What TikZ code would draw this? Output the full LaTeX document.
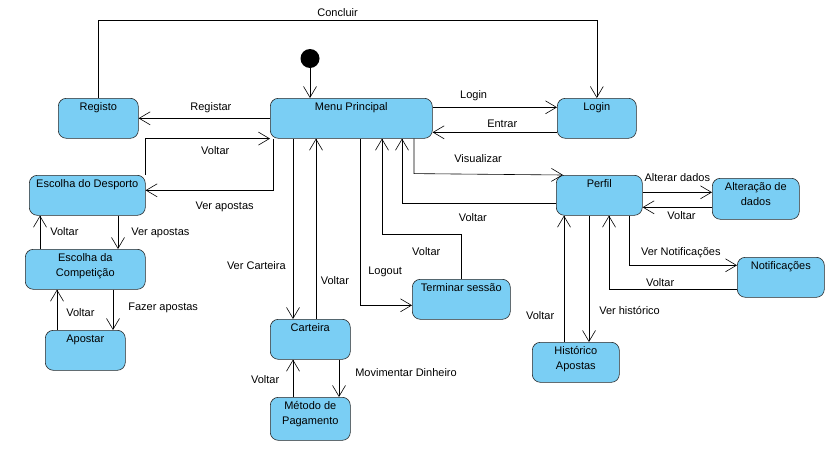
\documentclass[tikz,border=0pt]{standalone}
\usepackage{fontspec}
\setmainfont{Liberation Sans}
\usetikzlibrary{arrows.meta}
\definecolor{statefill}{RGB}{122,206,244}
\definecolor{statedraw}{RGB}{40,40,40}
\newcommand{\statebox}[3]{\parbox[c][#2][t]{#1}{\centering\rule{0pt}{12.5pt}#3}}

\begin{document}
\begin{tikzpicture}[
      x=1pt, y=-1pt,
      every node/.style={font=\fontsize{11}{15}\selectfont},
      state/.style={draw=statedraw, fill=statefill, rounded corners=8pt, inner sep=0pt, anchor=north west, line width=0.6pt},
      start/.style={circle, fill=black, minimum size=19pt, inner sep=0pt},
      tr/.style={draw=black, line width=0.6pt, -{Straight Barb[length=11pt,width=13pt]}},
      lbl/.style={inner sep=1pt, text height=8pt, text depth=2pt}
    ]
    \useasboundingbox (0,0) rectangle (837,461);

    % States, placed by their top left corner
    \node[start] (init) at (310,58.5) {};
    \node[state] (reg) at (58,98) {\statebox{80pt}{40pt}{Registo}};
    \node[state] (menu) at (270,98) {\statebox{162pt}{40pt}{Menu Principal}};
    \node[state] (login) at (557,98) {\statebox{79pt}{40pt}{Login}};
    \node[state] (desp) at (29,175) {\statebox{116pt}{40pt}{Escolha do Desporto}};
    \node[state] (comp) at (25,249) {\statebox{120pt}{40pt}{Escolha da\\Competição}};
    \node[state] (apostar) at (45,330) {\statebox{80pt}{40pt}{Apostar}};
    \node[state] (cart) at (270,319) {\statebox{80pt}{40pt}{Carteira}};
    \node[state] (met) at (270,397) {\statebox{80pt}{43pt}{Método de\\Pagamento}};
    \node[state] (term) at (412,279) {\statebox{98pt}{40pt}{Terminar sessão}};
    \node[state] (perfil) at (556,175) {\statebox{86pt}{40pt}{Perfil}};
    \node[state] (alter) at (712,178) {\statebox{87pt}{41pt}{Alteração de\\dados}};
    \node[state] (notif) at (737,257) {\statebox{87pt}{40pt}{Notificações}};
    \node[state] (hist) at (532,342) {\statebox{87pt}{40pt}{Histórico\\Apostas}};

    % Start and the top loop
    \draw[tr] (init) -- (init |- menu.north);
    \draw[tr] (reg.north) -- ++(0,-78) -| node[lbl, above=0pt, pos=0.24] {Concluir} (login.north);

    % Menu Principal with Registo and Login
    \draw[tr] (menu.west) -- node[lbl, above=5pt, pos=0.45] {Registar} (reg.east);
    \draw[tr] ([yshift=11pt]menu.east) -- node[lbl, above=6pt, pos=0.33] {Login} ([yshift=11pt]login.west);
    \draw[tr] ([yshift=-14pt]login.west) -- node[lbl, above=2pt, pos=0.44] {Entrar} ([yshift=-14pt]menu.east);

    % Apostas: Desporto, Competicao, Apostar
    \draw[tr] (desp.north east) |- node[lbl, below=7pt, pos=0.78] {Voltar} (menu.south west);
    \draw[tr] ([xshift=3pt]menu.south west) |- node[lbl, below=10pt, pos=0.69] {Ver apostas} ([yshift=5pt]desp.east);
    \draw[tr] ([xshift=15pt]comp.north west) -- node[lbl, right=9pt] {Voltar} ([xshift=11pt]desp.south west);
    \draw[tr] ([xshift=89pt]desp.south west) -- node[lbl, right=12pt] {Ver apostas} ([xshift=93pt]comp.north west);
    \draw[tr] ([xshift=12pt]apostar.north west) -- node[lbl, right=8pt, pos=0.41] {Voltar} ([xshift=32pt]comp.south west);
    \draw[tr] ([xshift=88pt]comp.south west) -- node[lbl, right=14pt, pos=0.44] {Fazer apostas} ([xshift=68pt]apostar.north west);

    % Carteira and Metodo de Pagamento
    \draw[tr] ([xshift=23pt]menu.south west) -- node[lbl, left=6pt, pos=0.71] {Ver Carteira} ([xshift=23pt]cart.north west);
    \draw[tr] ([xshift=46pt]cart.north west) -- node[lbl, right=3.5pt, pos=0.21] {Voltar} ([xshift=46pt]menu.south west);
    \draw[tr] ([xshift=69pt]cart.south west) -- node[lbl, right=15pt, pos=0.37] {Movimentar Dinheiro} ([xshift=69pt]met.north west);
    \draw[tr] ([xshift=23pt]met.north west) -- node[lbl, left=12.5pt, pos=0.45] {Voltar} ([xshift=23pt]cart.south west);

    % Terminar sessao
    \draw[tr] ([xshift=90pt]menu.south west) |- node[lbl, right=7pt, pos=0.4] {Logout} ([yshift=-6pt]term.west);
    \draw[tr] ([xshift=49pt]term.north west) -- ++(0,-45) -| node[lbl, below=12pt, pos=0.22] {Voltar} ([xshift=112pt]menu.south west);

    % Perfil and its states
    \draw[tr] ([yshift=-8pt]perfil.west) -| node[lbl, below=9pt, pos=0.27] {Voltar} ([xshift=132pt]menu.south west);
    \draw[tr] ([xshift=144pt]menu.south west) -- ++(0,35) -- node[lbl, above=8pt, pos=0.43] {Visualizar} ([xshift=7pt]perfil.north west);
    \draw[tr] ([yshift=3pt]perfil.east) -- node[lbl, above=8pt] {Alterar dados} ([yshift=3pt]perfil.east -| alter.west);
    \draw[tr] ([yshift=-8.5pt]alter.west) -- node[lbl, below=3pt, pos=0.44] {Voltar} ([yshift=-8.5pt]alter.west -| perfil.east);
    \draw[tr] ([xshift=73pt]perfil.south west) |- node[lbl, above=7pt, pos=0.74] {Ver Notificações} ([yshift=12pt]notif.west);
    \draw[tr] ([yshift=-12pt]notif.west) -| node[lbl, above=0pt, pos=0.3] {Voltar} ([xshift=53pt]perfil.south west);
    \draw[tr] ([xshift=33pt]perfil.south west) -- node[lbl, right=9pt, pos=0.76] {Ver histórico} ([xshift=57pt]hist.north west);
    \draw[tr] ([xshift=32pt]hist.north west) -- node[lbl, left=8.5pt, pos=0.2] {Voltar} ([xshift=8pt]perfil.south west);
\end{tikzpicture}
\end{document}
